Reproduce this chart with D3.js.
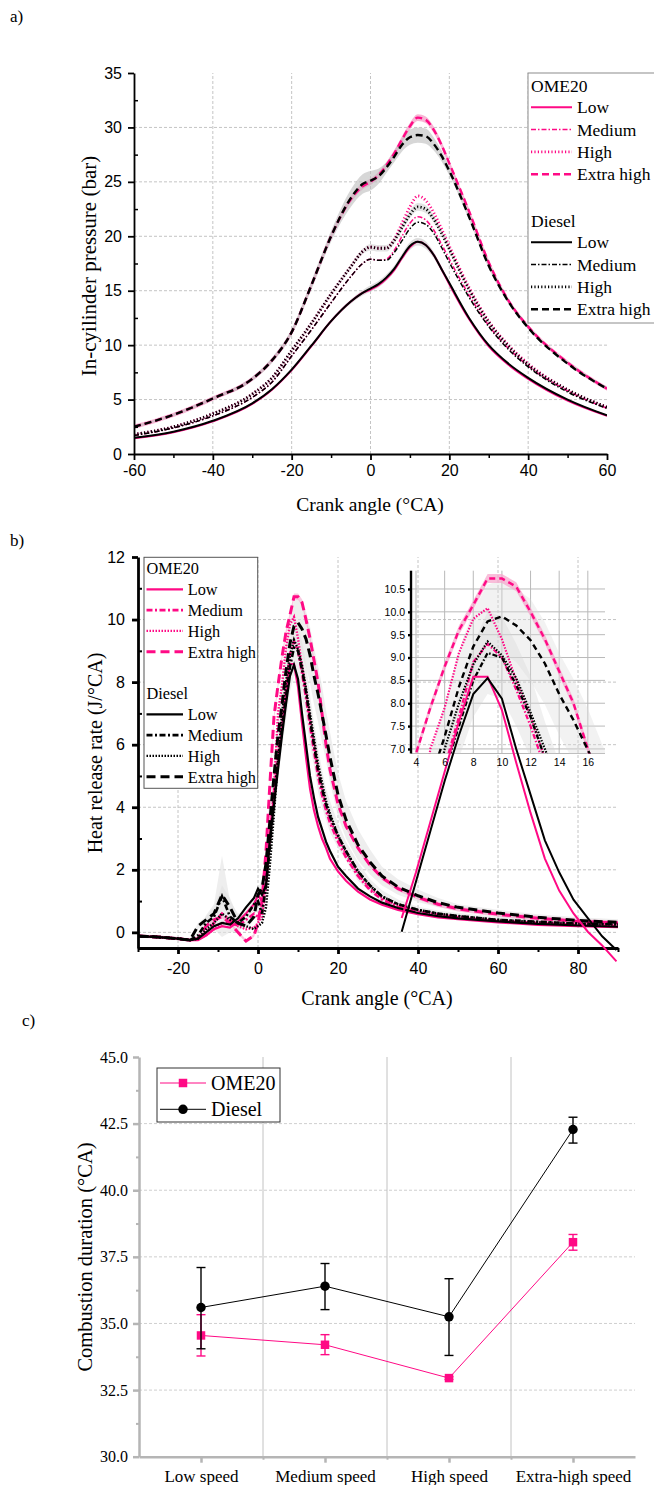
<!DOCTYPE html>
<html>
<head>
<meta charset="utf-8">
<script src="https://cdn.jsdelivr.net/npm/d3@7"></script>
<style>
body { margin: 0; background: #fff; }
svg { display: block; }
</style>
</head>
<body>
<svg id="fig" width="654" height="1485"></svg>
<script>
// ---- data: panel a, in-cylinder pressure (bar) ----
const angleA = [-60, -50, -40, -30, -25, -20, -15, -10, -5, -2, 0, 2, 4, 6, 8, 10, 12, 14, 16, 18, 20, 25, 30, 35, 40, 50, 60];
const pOmeLow      = [1.45, 2.0, 3.0, 4.6, 5.9, 7.7, 9.9, 12.2, 14.0, 14.8, 15.1, 15.5, 16.1, 16.9, 18.0, 19.0, 19.5, 19.2, 18.3, 17.0, 15.6, 12.4, 9.9, 8.2, 6.9, 4.9, 3.5];
const pDieselLow   = [1.5, 2.05, 3.05, 4.65, 5.95, 7.75, 9.95, 12.2, 14.0, 14.8, 15.2, 15.6, 16.2, 17.0, 18.1, 19.1, 19.5, 19.2, 18.3, 17.0, 15.7, 12.5, 10.0, 8.3, 7.0, 5.0, 3.55];
const pOmeMed      = [1.7, 2.4, 3.5, 5.2, 6.6, 9.0, 11.4, 13.9, 16.3, 17.5, 17.9, 17.8, 17.9, 18.7, 20.0, 21.2, 21.8, 21.5, 20.6, 19.3, 17.9, 14.6, 11.8, 9.7, 8.1, 5.8, 4.2];
const pDieselMed   = [1.7, 2.4, 3.5, 5.2, 6.6, 9.0, 11.4, 13.9, 16.3, 17.5, 17.9, 17.8, 17.8, 18.5, 19.6, 20.7, 21.3, 21.1, 20.3, 19.0, 17.6, 14.4, 11.7, 9.6, 8.0, 5.7, 4.2];
const pOmeHigh     = [1.8, 2.5, 3.7, 5.5, 7.0, 9.5, 12.0, 14.7, 17.2, 18.6, 19.0, 18.9, 18.9, 19.7, 21.2, 22.7, 23.7, 23.3, 22.2, 20.7, 19.1, 15.3, 12.2, 10.0, 8.3, 5.9, 4.3];
const pDieselHigh  = [1.8, 2.5, 3.7, 5.5, 7.0, 9.5, 12.0, 14.7, 17.2, 18.6, 19.0, 18.9, 18.9, 19.6, 20.8, 22.0, 22.7, 22.5, 21.6, 20.3, 18.8, 15.1, 12.1, 9.9, 8.2, 5.9, 4.3];
const pOmeExtra    = [2.5, 3.6, 5.1, 6.9, 8.6, 11.2, 15.5, 20.0, 23.4, 24.6, 25.0, 25.6, 26.5, 27.6, 28.9, 30.1, 30.9, 30.7, 29.8, 28.4, 26.7, 22.3, 17.6, 14.1, 11.7, 8.4, 6.0];
const pDieselExtra = [2.5, 3.6, 5.1, 6.9, 8.6, 11.2, 15.5, 20.0, 23.5, 24.8, 25.1, 25.5, 26.3, 27.3, 28.4, 29.1, 29.3, 29.2, 28.5, 27.4, 26.0, 21.8, 17.3, 14.0, 11.6, 8.3, 6.0];
// spread (half width) of the shaded bands
const spreadPresDieselExtra = [0.1, 0.1, 0.15, 0.2, 0.25, 0.3, 0.4, 0.5, 0.8, 0.9, 0.9, 0.7, 0.5, 0.5, 0.6, 0.7, 0.7, 0.7, 0.6, 0.5, 0.4, 0.3, 0.25, 0.2, 0.15, 0.1, 0.1];
const spreadPresOmeExtra    = [0.2, 0.2, 0.2, 0.2, 0.2, 0.2, 0.25, 0.25, 0.3, 0.3, 0.3, 0.3, 0.3, 0.3, 0.3, 0.3, 0.3, 0.3, 0.3, 0.3, 0.25, 0.25, 0.25, 0.2, 0.2, 0.2, 0.2];
const spreadPresLow         = [0.05, 0.05, 0.05, 0.1, 0.1, 0.1, 0.15, 0.15, 0.2, 0.25, 0.3, 0.3, 0.3, 0.3, 0.3, 0.35, 0.35, 0.35, 0.3, 0.25, 0.2, 0.15, 0.1, 0.1, 0.1, 0.05, 0.05];
const ticksAx = [-60, -40, -20, 0, 20, 40, 60];
const ticksAy = [0, 5, 10, 15, 20, 25, 30, 35];

// ---- data: panel b, heat release rate (J/°CA) ----
const angleB = [-30, -25, -20, -17, -15, -13, -11, -9, -7, -5, -3, -1,
  0, 1, 2, 3, 4, 5, 6, 7, 8, 9, 10, 11, 12, 13, 14, 15, 16, 17, 18,
  20, 22, 25, 28, 31, 35, 40, 45, 50, 60, 70, 80, 90];
const hrrOmeLow = [-0.12, -0.15, -0.2, -0.25, -0.25, -0.1, 0.1, 0.2, 0.15, 0.35, 0.6, 0.9,
  1.2, 1.0, 1.6, 3.3, 4.3, 5.4, 6.5, 7.6, 8.58, 8.58, 7.85, 6.7, 5.6, 4.6, 3.9, 3.4, 3.0, 2.7, 2.35,
  1.95, 1.65, 1.3, 1.05, 0.88, 0.72, 0.58, 0.48, 0.42, 0.32, 0.24, 0.2, 0.17];
const hrrDieselLow = [-0.12, -0.15, -0.2, -0.25, -0.2, 0.0, 0.2, 0.3, 0.25, 0.45, 0.8, 1.1,
  1.4, 1.2, 1.5, 3.0, 4.1, 5.2, 6.3, 7.3, 8.2, 8.55, 8.1, 7.0, 6.0, 5.0, 4.3, 3.7, 3.3, 2.9, 2.6,
  2.1, 1.8, 1.4, 1.15, 0.95, 0.78, 0.62, 0.52, 0.45, 0.35, 0.27, 0.22, 0.18];
const hrrOmeMed = [-0.12, -0.15, -0.2, -0.25, -0.2, 0.0, 0.3, 0.6, 0.4, 0.2, 0.4, 0.6,
  0.5, 0.8, 1.8, 3.0, 4.5, 5.8, 6.6, 7.7, 8.9, 9.3, 9.0, 8.3, 7.5, 6.6, 5.8, 5.0, 4.4, 3.9, 3.5,
  2.9, 2.4, 1.8, 1.35, 1.05, 0.82, 0.66, 0.56, 0.48, 0.36, 0.3, 0.24, 0.2];
const hrrDieselMed = [-0.12, -0.15, -0.2, -0.25, -0.1, 0.3, 0.5, 1.15, 0.5, 0.3, 0.5, 0.9,
  1.0, 0.6, 1.5, 2.8, 4.2, 5.5, 6.5, 7.5, 8.5, 9.1, 9.0, 8.4, 7.7, 6.8, 6.0, 5.2, 4.6, 4.1, 3.7,
  3.1, 2.6, 1.95, 1.5, 1.15, 0.9, 0.72, 0.6, 0.52, 0.4, 0.34, 0.28, 0.26];
const hrrOmeHigh = [-0.12, -0.15, -0.2, -0.25, -0.2, -0.1, 0.1, 0.3, 0.3, 0.2, 0.1, 0.15,
  0.3, 0.5, 1.5, 3.0, 4.6, 7.0, 7.9, 9.1, 9.85, 10.08, 9.4, 8.5, 7.7, 6.8, 6.0, 5.2, 4.6, 4.0, 3.6,
  3.0, 2.5, 1.85, 1.4, 1.1, 0.85, 0.7, 0.58, 0.5, 0.38, 0.3, 0.25, 0.22];
const hrrDieselHigh = [-0.12, -0.15, -0.2, -0.25, -0.2, 0.1, 0.3, 0.6, 0.4, 0.3, 0.2, 0.1,
  0.2, 0.3, 0.8, 2.2, 3.8, 5.5, 7.0, 8.0, 8.85, 9.35, 9.05, 8.55, 7.8, 7.0, 6.2, 5.4, 4.8, 4.2, 3.8,
  3.1, 2.6, 1.95, 1.5, 1.15, 0.9, 0.72, 0.6, 0.52, 0.4, 0.33, 0.28, 0.25];
const hrrOmeExtra = [-0.12, -0.15, -0.2, -0.25, -0.2, 0.2, 0.4, 0.5, 0.3, 0.0, -0.28, -0.1,
  0.3, 1.0, 2.6, 4.8, 6.9, 7.9, 8.8, 9.6, 10.15, 10.73, 10.73, 10.55, 10.0, 9.4, 8.7, 8.0, 7.0, 6.0, 5.2,
  4.1, 3.4, 2.7, 2.15, 1.75, 1.4, 1.12, 0.9, 0.75, 0.58, 0.45, 0.35, 0.3];
const hrrDieselExtra = [-0.12, -0.15, -0.2, -0.25, 0.2, 0.4, 0.6, 1.2, 0.8, 0.3, 0.2, 0.5,
  1.2, 1.4, 2.2, 3.6, 5.0, 6.3, 7.27, 8.36, 9.24, 9.79, 9.9, 9.7, 9.38, 8.87, 8.2, 7.63, 6.98, 6.3, 5.6,
  4.4, 3.6, 2.8, 2.25, 1.8, 1.45, 1.17, 0.95, 0.8, 0.62, 0.48, 0.38, 0.32];
const spreadHrrDieselMed = [0.05, 0.05, 0.05, 0.05, 0.1, 0.25, 0.4, 1.3, 0.5, 0.3, 0.2, 0.2,
  0.3, 0.3, 0.4, 0.5, 0.6, 0.6, 0.6, 0.7, 0.8, 0.9, 0.9, 0.9, 0.9, 0.8, 0.7, 0.7, 0.6, 0.5, 0.5,
  0.4, 0.3, 0.3, 0.2, 0.2, 0.15, 0.1, 0.1, 0.1, 0.1, 0.1, 0.1, 0.1];
const spreadHrrDieselExtra = [0.05, 0.05, 0.05, 0.05, 0.1, 0.1, 0.2, 0.3, 0.3, 0.2, 0.1, 0.1,
  0.2, 0.3, 0.4, 0.5, 0.6, 0.6, 0.7, 0.8, 0.8, 0.8, 0.8, 0.8, 0.9, 0.9, 0.9, 0.9, 0.9, 0.8, 0.8,
  0.7, 0.6, 0.5, 0.4, 0.3, 0.25, 0.2, 0.15, 0.1, 0.1, 0.1, 0.1, 0.1];
const spreadHrrOmeExtra = [0.05, 0.05, 0.05, 0.05, 0.05, 0.05, 0.05, 0.05, 0.05, 0.05, 0.05, 0.05,
  0.1, 0.1, 0.1, 0.1, 0.1, 0.1, 0.1, 0.1, 0.1, 0.1, 0.1, 0.1, 0.1, 0.1, 0.1, 0.1, 0.1, 0.1, 0.1,
  0.08, 0.08, 0.08, 0.08, 0.08, 0.08, 0.08, 0.08, 0.08, 0.08, 0.08, 0.08, 0.08];
const ticksBx = [-20, 0, 20, 40, 60, 80];
const ticksBy = [0, 2, 4, 6, 8, 10, 12];
const ticksInsetX = [4, 6, 8, 10, 12, 14, 16];
const ticksInsetY = [7.0, 7.5, 8.0, 8.5, 9.0, 9.5, 10.0, 10.5];

// ---- data: panel c, combustion duration (°CA) ----
const speeds = ['Low speed', 'Medium speed', 'High speed', 'Extra-high speed'];
const durOme = [34.55, 34.2, 32.95, 38.05];
const durOmeLo = [33.78, 33.83, 32.9, 37.75];
const durOmeHi = [35.33, 34.58, 33.0, 38.34];
const durDiesel = [35.6, 36.4, 35.25, 42.28];
const durDieselLo = [34.05, 35.52, 33.8, 41.77];
const durDieselHi = [37.1, 37.25, 36.68, 42.74];
const ticksCy = [30, 32.5, 35, 37.5, 40, 42.5, 45];

const fuels = ['OME20', 'Diesel'];
const loads = ['Low', 'Medium', 'High', 'Extra high'];

// ---- styles ----
const pink = '#ff0a85';
const fuelColor = { 'OME20': pink, 'Diesel': '#000' };
const serif = '"Liberation Serif", "Times New Roman", serif';
const sans = '"Liberation Sans", Arial, sans-serif';
const plainNum = d => String(d);   // hyphen minus, like the original
const styleA = {
    'Low': { w: 2, dash: null },
    'Medium': { w: 1.5, dash: '5,2,1.5,2' },
    'High': { w: 2.8, dash: '1.2,2.2' },
    'Extra high': { w: 2.4, dash: '7,4' }
};
const styleB = {
    'Low': { w: 2.2, dash: null },
    'Medium': { w: 2.6, dash: '6,2.5,2,2.5' },
    'High': { w: 2.4, dash: '1.5,1.5' },
    'Extra high': { w: 3, dash: '9,5' }
};
const styleI = {
    'Low': { w: 2, dash: null },
    'Medium': { w: 2.3, dash: '5,2,1.5,2' },
    'High': { w: 2.2, dash: '1.5,1.5' },
    'Extra high': { w: 2.4, dash: '6,4' }
};

const svg = d3.select('#fig');
const defs = svg.append('defs');

function addClip(id, x, y, w, h) {
    defs.append('clipPath').attr('id', id).append('rect')
        .attr('x', x).attr('y', y).attr('width', w).attr('height', h);
}

function drawLine(g, pts, x, y, color, st, curve) {
    g.append('path').datum(pts)
        .attr('fill', 'none')
        .attr('stroke', color)
        .attr('stroke-width', st.w)
        .attr('stroke-dasharray', st.dash)
        .attr('d', d3.line().x(d => x(d[0])).y(d => y(d[1])).curve(curve));
}

function drawBand(g, xs, vs, spread, x, y, fill, op, curve) {
    g.append('path').datum(xs.map((a, i) => [a, vs[i], spread[i]]))
        .attr('fill', fill).attr('fill-opacity', op)
        .attr('d', d3.area().x(d => x(d[0])).y0(d => y(d[1] - d[2])).y1(d => y(d[1] + d[2])).curve(curve));
}

function styleAxis(g, width, color, family, size) {
    g.attr('font-family', null).attr('font-size', null);
    g.selectAll('.domain').attr('stroke', color).attr('stroke-width', width);
    g.selectAll('.tick line').attr('stroke', color).attr('stroke-width', width);
    g.selectAll('.tick text').attr('fill', '#000')
        .style('font-family', family).style('font-size', size + 'px');
}

function gridLines(g, vals, x1, x2, y1, y2, color, dash) {
    g.append('g').selectAll('line').data(vals).join('line')
        .attr('x1', x1).attr('x2', x2).attr('y1', y1).attr('y2', y2)
        .attr('stroke', color).attr('stroke-width', 1).attr('stroke-dasharray', dash);
}

function legendBlock(g, x0, headers, rowStart, rowStep, lineW, textX, size, styles) {
    fuels.forEach((f, fi) => {
        g.append('text').attr('x', x0).attr('y', headers[fi])
            .attr('font-family', serif).attr('font-size', size).text(f);
        loads.forEach((l, li) => {
            const yy = headers[fi] + rowStart + li * rowStep;
            g.append('line').attr('x1', x0).attr('x2', x0 + lineW)
                .attr('y1', yy - 6).attr('y2', yy - 6)
                .attr('stroke', fuelColor[f]).attr('stroke-width', styles[l].w)
                .attr('stroke-dasharray', styles[l].dash);
            g.append('text').attr('x', textX).attr('y', yy)
                .attr('font-family', serif).attr('font-size', size).text(l);
        });
    });
}

// panel labels
[['a)', 10, 22], ['b)', 10, 546], ['c)', 22, 1026]].forEach(d => {
    svg.append('text').attr('x', d[1]).attr('y', d[2])
        .attr('font-family', serif).attr('font-size', 17).text(d[0]);
});

// =================== panel a ===================
const xA = d3.scaleLinear().domain([-60, 60]).range([134, 607]);
const yA = d3.scaleLinear().domain([0, 35]).range([454, 73]);
const gA = svg.append('g');
addClip('clipA', 134, 73, 473, 381);

gridLines(gA, [-40, -20, 0, 20, 40], d => xA(d), d => xA(d), yA(0), yA(35), '#c4c4c4', '3,2');
gridLines(gA, [5, 10, 15, 20, 25, 30], xA(-60), xA(60), d => yA(d), d => yA(d), '#c4c4c4', '3,2');

const plotA = gA.append('g').attr('clip-path', 'url(#clipA)');
const seriesA = {
    'OME20': [pOmeLow, pOmeMed, pOmeHigh, pOmeExtra],
    'Diesel': [pDieselLow, pDieselMed, pDieselHigh, pDieselExtra]
};
drawBand(plotA, angleA, pOmeExtra, spreadPresOmeExtra, xA, yA, '#f6a3cb', 0.8, d3.curveMonotoneX);
drawBand(plotA, angleA, pDieselExtra, spreadPresDieselExtra, xA, yA, '#bdbdbd', 0.6, d3.curveMonotoneX);
drawBand(plotA, angleA, pDieselLow, spreadPresLow, xA, yA, '#c8c8c8', 0.6, d3.curveMonotoneX);
drawBand(plotA, angleA, pDieselHigh, spreadPresLow, xA, yA, '#c8c8c8', 0.5, d3.curveMonotoneX);
fuels.forEach(f => {
    loads.forEach((l, li) => {
        drawLine(plotA, angleA.map((a, i) => [a, seriesA[f][li][i]]), xA, yA, fuelColor[f], styleA[l], d3.curveMonotoneX);
    });
});

const axAx = gA.append('g').attr('transform', `translate(0,${yA(0)})`)
    .call(d3.axisBottom(xA).tickValues(ticksAx).tickSize(6).tickSizeOuter(0).tickPadding(5).tickFormat(plainNum));
styleAxis(axAx, 1.8, '#000', sans, 16);
const axAxm = gA.append('g').attr('transform', `translate(0,${yA(0)})`)
    .call(d3.axisBottom(xA).tickValues([-50, -30, -10, 10, 30, 50]).tickSize(4).tickFormat(''));
axAxm.select('.domain').remove();
styleAxis(axAxm, 1.5, '#000', sans, 16);
const axAy = gA.append('g').attr('transform', `translate(${xA(-60)},0)`)
    .call(d3.axisLeft(yA).tickValues(ticksAy).tickSize(6).tickSizeOuter(0).tickPadding(6).tickFormat(plainNum));
styleAxis(axAy, 1.8, '#000', sans, 16);
const axAym = gA.append('g').attr('transform', `translate(${xA(-60)},0)`)
    .call(d3.axisRight(yA).tickValues([2.5, 7.5, 12.5, 17.5, 22.5, 27.5, 32.5]).tickSize(4).tickFormat(''));
axAym.select('.domain').remove();
styleAxis(axAym, 1.5, '#000', sans, 16);

gA.append('text').attr('x', 370).attr('y', 511).attr('text-anchor', 'middle')
    .attr('font-family', serif).attr('font-size', 19.5).text('Crank angle (°CA)');
gA.append('text').attr('transform', 'translate(96,266) rotate(-90)').attr('text-anchor', 'middle')
    .attr('font-family', serif).attr('font-size', 21).text('In-cyilinder pressure (bar)');

const legA = gA.append('g');
legA.append('rect').attr('x', 528).attr('y', 73).attr('width', 135).attr('height', 250)
    .attr('fill', '#fff').attr('stroke', '#8c8c8c').attr('stroke-width', 1);
legendBlock(legA, 531, [91.7, 226.7], 21.6, 22.3, 41, 577, 17.5, styleA);

// =================== panel b ===================
const xB = d3.scaleLinear().domain([-30, 90]).range([138, 618]);
const yB = d3.scaleLinear().domain([-0.5, 12]).range([948, 557]);
const gB = svg.append('g');
addClip('clipB', 138, 557, 480, 391);

gridLines(gB, [-20, 0, 20, 40, 60, 80], d => xB(d), d => xB(d), yB(-0.5), yB(12), '#c4c4c4', '3,2');
gridLines(gB, [0, 2, 4, 6, 8, 10], xB(-30), xB(90), d => yB(d), d => yB(d), '#c4c4c4', '3,2');

const plotB = gB.append('g').attr('clip-path', 'url(#clipB)');
const seriesB = {
    'OME20': [hrrOmeLow, hrrOmeMed, hrrOmeHigh, hrrOmeExtra],
    'Diesel': [hrrDieselLow, hrrDieselMed, hrrDieselHigh, hrrDieselExtra]
};
drawBand(plotB, angleB, hrrDieselMed, spreadHrrDieselMed, xB, yB, '#e2e2e2', 0.6, d3.curveLinear);
drawBand(plotB, angleB, hrrDieselExtra, spreadHrrDieselExtra, xB, yB, '#e2e2e2', 0.6, d3.curveLinear);
drawBand(plotB, angleB, hrrOmeExtra, spreadHrrOmeExtra, xB, yB, '#f6a3cb', 0.6, d3.curveLinear);
fuels.forEach(f => {
    loads.forEach((l, li) => {
        drawLine(plotB, angleB.map((a, i) => [a, seriesB[f][li][i]]), xB, yB, fuelColor[f], styleB[l], d3.curveLinear);
    });
});

const axBx = gB.append('g').attr('transform', `translate(0,${yB(-0.5)})`)
    .call(d3.axisBottom(xB).tickValues(ticksBx).tickSize(6).tickSizeOuter(0).tickPadding(9).tickFormat(plainNum));
styleAxis(axBx, 2.8, '#000', sans, 16);
const axBxm = gB.append('g').attr('transform', `translate(0,${yB(-0.5)})`)
    .call(d3.axisBottom(xB).tickValues([-30, -10, 10, 30, 50, 70, 90]).tickSize(4).tickFormat(''));
axBxm.select('.domain').remove();
styleAxis(axBxm, 2, '#000', sans, 16);
const axBy = gB.append('g').attr('transform', `translate(${xB(-30)},0)`)
    .call(d3.axisLeft(yB).tickValues(ticksBy).tickSize(6).tickSizeOuter(0).tickPadding(7).tickFormat(plainNum));
styleAxis(axBy, 2.8, '#000', sans, 16);
const axBym = gB.append('g').attr('transform', `translate(${xB(-30)},0)`)
    .call(d3.axisRight(yB).tickValues([1, 3, 5, 7, 9, 11]).tickSize(4).tickFormat(''));
axBym.select('.domain').remove();
styleAxis(axBym, 2, '#000', sans, 16);

gB.append('text').attr('x', 377).attr('y', 1005).attr('text-anchor', 'middle')
    .attr('font-family', serif).attr('font-size', 20).text('Crank angle (°CA)');
gB.append('text').attr('transform', 'translate(102,753) rotate(-90)').attr('text-anchor', 'middle')
    .attr('font-family', serif).attr('font-size', 20).text('Heat release rate (J/°CA)');

// inset
const xI = d3.scaleLinear().domain([3.65, 17.2]).range([411, 605]);
const yI = d3.scaleLinear().domain([6.9, 10.9]).range([753.5, 570.7]);
const gI = svg.append('g');
addClip('clipI', 411, 570.7, 194, 182.8);
gridLines(gI, [4, 6, 8, 10, 12, 14, 16], d => xI(d), d => xI(d), yI(6.9), yI(10.9), '#b9b9b9', null);
gridLines(gI, ticksInsetY.concat([6.9]), xI(3.65), xI(17.2), d => yI(d), d => yI(d), '#b9b9b9', null);

const plotI = gI.append('g').attr('clip-path', 'url(#clipI)');
drawBand(plotI, angleB, hrrDieselMed, spreadHrrDieselMed, xI, yI, '#d4d4d4', 0.35, d3.curveLinear);
drawBand(plotI, angleB, hrrDieselExtra, spreadHrrDieselExtra, xI, yI, '#dadada', 0.35, d3.curveLinear);
drawBand(plotI, angleB, hrrOmeExtra, spreadHrrOmeExtra, xI, yI, '#f6a3cb', 0.7, d3.curveLinear);
fuels.forEach(f => {
    loads.forEach((l, li) => {
        const pts = angleB.map((a, i) => [a, seriesB[f][li][i]]);
        if (l === 'Low') {
            // the low-load traces of the inset are not clipped in the original
            drawLine(gI, pts.filter(d => d[0] >= 3 && d[0] <= 18), xI, yI, fuelColor[f], styleI[l], d3.curveLinear);
        } else {
            drawLine(plotI, pts.filter(d => d[0] >= 2 && d[0] <= 19), xI, yI, fuelColor[f], styleI[l], d3.curveLinear);
        }
    });
});

const axIy = gI.append('g').attr('transform', `translate(${xI(3.65)},0)`)
    .call(d3.axisLeft(yI).tickValues(ticksInsetY).tickSize(3).tickSizeOuter(0).tickPadding(3).tickFormat(d3.format('.1f')));
axIy.select('.domain').attr('d', `M0,${yI(6.9)}V${yI(10.9)}`);
styleAxis(axIy, 2.4, '#000', sans, 10.5);
const axIx = gI.append('g').attr('transform', `translate(0,${yI(6.9)})`)
    .call(d3.axisBottom(xI).tickValues(ticksInsetX).tickSize(0).tickPadding(5));
axIx.select('.domain').remove();
styleAxis(axIx, 1, '#000', sans, 10.5);

const legB = gB.append('g');
legB.append('rect').attr('x', 144).attr('y', 557.3).attr('width', 113.7).attr('height', 231)
    .attr('fill', '#fff').attr('stroke', '#555').attr('stroke-width', 1);
legendBlock(legB, 146.5, [574.3, 699.3], 21, 20.8, 36.5, 187.7, 16.3, styleB);

// =================== panel c ===================
const xC = d3.scaleLinear().domain([0.5, 4.5]).range([139, 635]);
const yC = d3.scaleLinear().domain([30, 45]).range([1456.7, 1057]);
const gC = svg.append('g');
const axisGray = '#b5b5b5';

gridLines(gC, [32.5, 35, 37.5, 40, 42.5], xC(0.5), xC(4.5), d => yC(d), d => yC(d), '#cfcfcf', '3,2');
gridLines(gC, [1.5, 2.5, 3.5], d => xC(d), d => xC(d), yC(30), yC(45), '#c2c2c2', null);

const axCx = gC.append('g').attr('transform', `translate(0,${yC(30)})`)
    .call(d3.axisBottom(xC).tickValues([1, 2, 3, 4]).tickSize(6).tickSizeOuter(0).tickPadding(7)
        .tickFormat(d => speeds[d - 1]));
styleAxis(axCx, 2.5, axisGray, serif, 17);
const axCxm = gC.append('g').attr('transform', `translate(0,${yC(30)})`)
    .call(d3.axisBottom(xC).tickValues([1.5, 2.5, 3.5]).tickSize(3).tickFormat(''));
axCxm.select('.domain').remove();
styleAxis(axCxm, 2, axisGray, serif, 17);
const axCy = gC.append('g').attr('transform', `translate(${xC(0.5)},0)`)
    .call(d3.axisLeft(yC).tickValues(ticksCy).tickSize(6).tickSizeOuter(0).tickPadding(5).tickFormat(d3.format('.1f')));
styleAxis(axCy, 2.5, axisGray, serif, 16);
const axCym = gC.append('g').attr('transform', `translate(${xC(0.5)},0)`)
    .call(d3.axisLeft(yC).tickValues([31.25, 33.75, 36.25, 38.75, 41.25, 43.75]).tickSize(3).tickFormat(''));
axCym.select('.domain').remove();
styleAxis(axCym, 2, axisGray, serif, 16);

gC.append('text').attr('transform', 'translate(92,1257) rotate(-90)').attr('text-anchor', 'middle')
    .attr('font-family', serif).attr('font-size', 20.5).text('Combustion duration (°CA)');

const durSeries = [
    { fuel: 'OME20', v: durOme, lo: durOmeLo, hi: durOmeHi, mark: 'square' },
    { fuel: 'Diesel', v: durDiesel, lo: durDieselLo, hi: durDieselHi, mark: 'circle' }
];
durSeries.forEach(s => {
    const col = fuelColor[s.fuel];
    const pts = s.v.map((v, i) => [i + 1, v]);
    gC.append('path').datum(pts).attr('fill', 'none').attr('stroke', col).attr('stroke-width', 1)
        .attr('d', d3.line().x(d => xC(d[0])).y(d => yC(d[1])));
    const eb = gC.append('g').selectAll('g').data(s.v.map((v, i) => i)).join('g')
        .attr('stroke', col).attr('stroke-width', 1.4);
    eb.append('line').attr('x1', i => xC(i + 1)).attr('x2', i => xC(i + 1))
        .attr('y1', i => yC(s.lo[i])).attr('y2', i => yC(s.hi[i]));
    eb.append('line').attr('x1', i => xC(i + 1) - 4.5).attr('x2', i => xC(i + 1) + 4.5)
        .attr('y1', i => yC(s.lo[i])).attr('y2', i => yC(s.lo[i]));
    eb.append('line').attr('x1', i => xC(i + 1) - 4.5).attr('x2', i => xC(i + 1) + 4.5)
        .attr('y1', i => yC(s.hi[i])).attr('y2', i => yC(s.hi[i]));
    const sym = d3.symbol().type(s.mark === 'square' ? d3.symbolSquare : d3.symbolCircle).size(s.mark === 'square' ? 72 : 70);
    gC.append('g').selectAll('path').data(pts).join('path')
        .attr('transform', d => `translate(${xC(d[0])},${yC(d[1])})`)
        .attr('d', sym).attr('fill', col);
});

const legC = gC.append('g');
legC.append('rect').attr('x', 157).attr('y', 1068).attr('width', 123).attr('height', 54)
    .attr('fill', '#fff').attr('stroke', '#333').attr('stroke-width', 1);
durSeries.forEach((s, i) => {
    const yy = 1083 + i * 26.3;
    const col = fuelColor[s.fuel];
    legC.append('line').attr('x1', 160).attr('x2', 206).attr('y1', yy).attr('y2', yy)
        .attr('stroke', col).attr('stroke-width', 1);
    legC.append('path').attr('transform', `translate(183,${yy})`)
        .attr('d', d3.symbol().type(s.mark === 'square' ? d3.symbolSquare : d3.symbolCircle).size(s.mark === 'square' ? 72 : 70))
        .attr('fill', col);
    legC.append('text').attr('x', 211).attr('y', yy + 7).attr('font-family', serif).attr('font-size', 20).text(s.fuel);
});
</script>
</body>
</html>
